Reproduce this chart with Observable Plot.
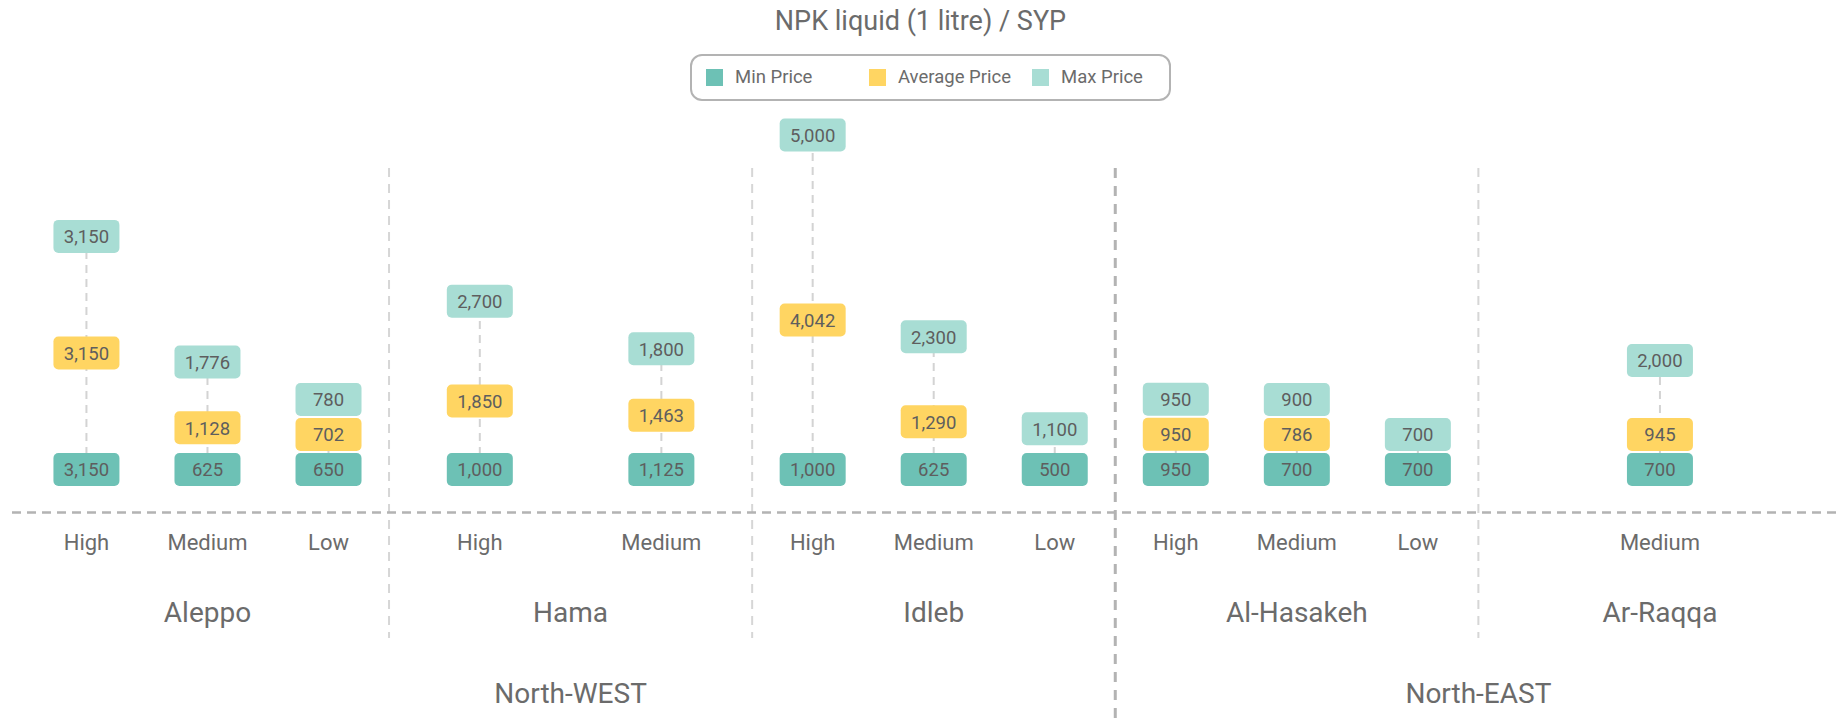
<!DOCTYPE html>
<html>
<head>
<meta charset="utf-8">
<script src="https://cdn.jsdelivr.net/npm/d3@7"></script>
<script src="https://cdn.jsdelivr.net/npm/@observablehq/plot@0.6"></script>
<style>
  body { margin: 0; background: #fff; font-family: Roboto, "Noto Sans", sans-serif; }
  #wrap { position: relative; width: 1841px; height: 722px; overflow: hidden; }
  #title { position: absolute; top: 4px; left: 0; width: 1841px; text-align: center; font-size: 27px; line-height: 34px; color: #6b6b6b; }
  #legend { position: absolute; left: 690px; top: 54px; width: 481px; height: 47px; box-sizing: border-box;
            border: 2.5px solid #b3b3b3; border-radius: 12px; }
  .item { position: absolute; top: 0; height: 42px; display: flex; align-items: center; font-size: 18.5px; color: #6b6b6b; white-space: nowrap; }
  .sw { width: 17px; height: 17px; margin-right: 12px; }
  #chart { position: absolute; top: 104px; left: 0; }
</style>
</head>
<body>
<div id="wrap">
  <div id="title"></div>
  <div id="legend"></div>
  <div id="chart"></div>
</div>
<script>
// ---- data ----
const chartTitle = "NPK liquid (1 litre) / SYP";
const seriesNames = ["Min Price", "Average Price", "Max Price"];
const seriesColors = ["#6dc1b5", "#ffd562", "#a8ddd4"];
const states = ["Aleppo", "Hama", "Idleb", "Al-Hasakeh", "Ar-Raqqa"];
const stateRegion = ["North-WEST", "North-WEST", "North-WEST", "North-EAST", "North-EAST"];
const columnState = ["Aleppo","Aleppo","Aleppo","Hama","Hama","Idleb","Idleb","Idleb","Al-Hasakeh","Al-Hasakeh","Al-Hasakeh","Ar-Raqqa"];
const columnLevel = ["High","Medium","Low","High","Medium","High","Medium","Low","High","Medium","Low","Medium"];
const minPrice = [3150, 625, 650, 1000, 1125, 1000, 625, 500, 950, 700, 700, 700];
const avgPrice = [3150, 1128, 702, 1850, 1463, 4042, 1290, null, 950, 786, null, 945];
const maxPrice = [3150, 1776, 780, 2700, 1800, 5000, 2300, 1100, 950, 900, 700, 2000];

// ---- header (title + legend) ----
document.getElementById("title").textContent = chartTitle;
const legend = document.getElementById("legend");
seriesNames.forEach((name, i) => {
  const it = document.createElement("div");
  it.className = "item";
  it.style.left = (14 + i * 163) + "px";
  const sw = document.createElement("div");
  sw.className = "sw";
  sw.style.background = seriesColors[i];
  it.appendChild(sw);
  const t = document.createElement("span");
  t.textContent = name;
  it.appendChild(t);
  legend.appendChild(it);
});

// ---- layout helpers ----
const W = 1841, H = 618;
const yMaxDomain = 9000, yBase = 365, yTop = 32;
const pxPerUnit = (yBase - yTop) / yMaxDomain;
const minGap = 35 / pxPerUnit; // labels never overlap

const cols = columnState.map((s, i) => {
  const si = states.indexOf(s);
  const members = columnState.map((c, k) => [c, k]).filter(([c]) => c === s).map(([, k]) => k);
  const j = members.indexOf(i), n = members.length;
  const x = si + (j + 0.5) / n;
  // stacked positions: min pinned at base, average stacked on it, max stacked on average
  const pMin = 0;
  const pAvg = avgPrice[i] == null ? null : Math.max(avgPrice[i], minGap);
  const prev = pAvg == null ? pMin : pAvg;
  const pMax = prev + Math.max(maxPrice[i], minGap);
  return {x, level: columnLevel[i], state: s, pMin, pAvg, pMax,
          min: minPrice[i], avg: avgPrice[i], max: maxPrice[i]};
});

const points = [];
cols.forEach(c => {
  points.push({x: c.x, y: c.pMin, value: c.min, series: seriesNames[0]});
  if (c.avg != null) points.push({x: c.x, y: c.pAvg, value: c.avg, series: seriesNames[1]});
  points.push({x: c.x, y: c.pMax, value: c.max, series: seriesNames[2]});
});

const stateData = states.map((s, i) => ({x: i + 0.5, name: s}));
const regionNames = [...new Set(stateRegion)];
const regionData = regionNames.map(r => {
  const idx = stateRegion.map((v, i) => [v, i]).filter(([v]) => v === r).map(([, i]) => i);
  return {x: (d3.min(idx) + d3.max(idx) + 1) / 2, name: r};
});
const stateDividers = [], regionDividers = [];
for (let i = 1; i < states.length; i++) {
  (stateRegion[i] !== stateRegion[i - 1] ? regionDividers : stateDividers).push(i);
}

const boxW = 66, boxH = 33, boxR = 5;
const roundBox = {
  draw(ctx) {
    const w = boxW / 2, h = boxH / 2, r = boxR;
    ctx.moveTo(-w + r, -h);
    ctx.lineTo(w - r, -h);
    ctx.arcTo(w, -h, w, -h + r, r);
    ctx.lineTo(w, h - r);
    ctx.arcTo(w, h, w - r, h, r);
    ctx.lineTo(-w + r, h);
    ctx.arcTo(-w, h, -w, h - r, r);
    ctx.lineTo(-w, -h + r);
    ctx.arcTo(-w, -h, -w + r, -h, r);
    ctx.closePath();
  }
};

const fmt = d3.format(",");
const labelColor = "#6b6b6b";

const chart = Plot.plot({
  width: W,
  height: H,
  margin: 0,
  style: {fontFamily: "Roboto, 'Noto Sans', sans-serif", background: "#fff", overflow: "visible"},
  x: {domain: [-0.07, 5], range: [0, W], axis: null},
  y: {domain: [0, yMaxDomain], range: [yBase, yTop], axis: null},
  color: {domain: seriesNames, range: seriesColors},
  marks: [
    Plot.ruleX(stateDividers, {stroke: "#d6d6d6", strokeWidth: 2, strokeDasharray: "9,7", insetTop: 64, insetBottom: 84}),
    Plot.ruleX(regionDividers, {stroke: "#b3b3b3", strokeWidth: 3, strokeDasharray: "10,8", insetTop: 64}),
    Plot.ruleY([0], {dy: 43, stroke: "#b3b3b3", strokeWidth: 2.5, strokeDasharray: "9,6", insetLeft: 12}),
    Plot.ruleX(cols, {x: "x", y1: "pMin", y2: "pMax", stroke: "#d3d3d3", strokeWidth: 2, strokeDasharray: "8,6"}),
    Plot.dot(points, {x: "x", y: "y", fill: "series", symbol: roundBox, r: 10, stroke: "none"}),
    Plot.text(points, {x: "x", y: "y", text: d => fmt(d.value), fontSize: 18.5, fill: "#5e5e5e", dy: 1}),
    Plot.text(cols, {x: "x", text: "level", frameAnchor: "top", lineAnchor: "middle", dy: 438, fontSize: 22, fill: labelColor}),
    Plot.text(stateData, {x: "x", text: "name", frameAnchor: "top", lineAnchor: "middle", dy: 509, fontSize: 28, fill: labelColor}),
    Plot.text(regionData, {x: "x", text: "name", frameAnchor: "top", lineAnchor: "middle", dy: 590, fontSize: 28, fill: labelColor})
  ]
});
document.getElementById("chart").appendChild(chart);
</script>
</body>
</html>
